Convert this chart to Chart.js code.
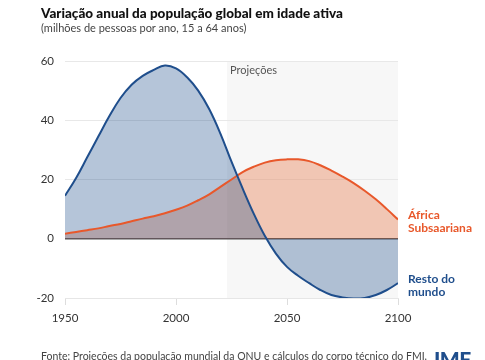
<!DOCTYPE html>
<html>
<head>
<meta charset="utf-8">
<script src="https://cdn.jsdelivr.net/npm/chart.js@4.4.0/dist/chart.umd.min.js"></script>
<style>
    html, body { margin: 0; padding: 0; background: #fff; }
    body { width: 485px; height: 360px; position: relative; overflow: hidden; font-family: Lato, 'Noto Sans', sans-serif; }
    #wrap { position: absolute; left: 0; top: 0; width: 485px; height: 360px; }
    .titulo { position: absolute; left: 41px; top: 5px; font-size: 13.5px; font-weight: 900; color: #111; white-space: nowrap; }
    .subtitulo { position: absolute; left: 41px; top: 21px; font-size: 11px; color: #444; white-space: nowrap; }
    .fonte { position: absolute; left: 41px; top: 350px; font-size: 10.5px; color: #444; white-space: nowrap; }
    .logo { position: absolute; left: 434px; top: 346px; font-size: 21px; font-weight: 900; color: #1f4e8c; letter-spacing: -0.5px; }
</style>
</head>
<body>
<div id="wrap"><canvas id="grafico"></canvas></div>
<div class="titulo">Variação anual da população global em idade ativa</div>
<div class="subtitulo">(milhões de pessoas por ano, 15 a 64 anos)</div>
<div class="fonte">Fonte: Projeções da população mundial da ONU e cálculos do corpo técnico do FMI.</div>
<div class="logo">IMF</div>
<script>
const anos = [1950, 1955, 1960, 1965, 1970, 1975, 1980, 1985, 1990, 1995, 2000,
    2005, 2010, 2015, 2020, 2025, 2030, 2035, 2040, 2045, 2050,
    2055, 2060, 2065, 2070, 2075, 2080, 2085, 2090, 2095, 2100];

const restoDoMundo = [14.5, 20.5, 27.5, 34.5, 41.4, 47.5, 52, 55, 57, 58.5, 57.5,
    54.5, 50, 43.7, 35.5, 26, 17, 8.5, 1, -5, -9.5,
    -12.5, -15, -17.3, -19, -19.8, -20.2, -20, -19, -17.3, -15];

const africaSubsaariana = [1.7, 2.3, 2.9, 3.5, 4.3, 5.0, 5.9, 6.8, 7.6, 8.6, 9.8,
    11.2, 13, 15, 17.5, 20, 22.5, 24.3, 25.7, 26.5, 26.8,
    26.8, 26.2, 24.8, 23, 21, 18.8, 16.2, 13.3, 10, 6.5];

const ticksX = [1950, 2000, 2050, 2100];
const ticksY = [-20, 0, 20, 40, 60];
const inicioProjecoes = 2023;

const azul = '#1f4e8c';
const laranja = '#e8582b';

// fundo cinza da zona de projeções
const projecoes = {
    id: 'projecoes',
    beforeDraw(chart) {
        const { ctx, chartArea, scales } = chart;
        const x0 = scales.x.getPixelForValue(inicioProjecoes);
        const x1 = scales.x.getPixelForValue(2100);
        ctx.save();
        ctx.fillStyle = '#f7f7f7';
        ctx.fillRect(x0, chartArea.top, x1 - x0, chartArea.bottom - chartArea.top);
        ctx.fillStyle = '#555';
        ctx.font = '11px Lato, "Noto Sans", sans-serif';
        ctx.textBaseline = 'top';
        ctx.fillText('Projeções', x0 + 3, chartArea.top + 4);
        ctx.restore();
    }
};

// rótulos das séries à direita
const rotulos = {
    id: 'rotulos',
    afterDraw(chart) {
        const { ctx, scales } = chart;
        const x = scales.x.getPixelForValue(2100) + 10;
        const series = [
            { linhas: ['África', 'Subsaariana'], cor: laranja, v: africaSubsaariana[africaSubsaariana.length - 1] },
            { linhas: ['Resto do', 'mundo'], cor: azul, v: restoDoMundo[restoDoMundo.length - 1] }
        ];
        ctx.save();
        ctx.font = 'bold 12px Lato, "Noto Sans", sans-serif';
        ctx.textBaseline = 'middle';
        series.forEach(s => {
            const y = scales.y.getPixelForValue(s.v);
            ctx.fillStyle = s.cor;
            ctx.fillText(s.linhas[0], x, y - 4);
            ctx.fillText(s.linhas[1], x, y + 9);
        });
        ctx.restore();
    }
};

const ctx = document.getElementById('grafico').getContext('2d');

new Chart(ctx, {
    type: 'line',
    data: {
        datasets: [{
            label: 'Resto do mundo',
            data: anos.map((a, i) => ({ x: a, y: restoDoMundo[i] })),
            borderColor: azul,
            backgroundColor: 'rgba(31,78,140,0.33)',
            borderWidth: 2,
            pointRadius: 0,
            tension: 0.4,
            fill: 'origin'
        }, {
            label: 'África Subsaariana',
            data: anos.map((a, i) => ({ x: a, y: africaSubsaariana[i] })),
            borderColor: laranja,
            backgroundColor: 'rgba(232,100,45,0.33)',
            borderWidth: 2,
            pointRadius: 0,
            tension: 0.4,
            fill: 'origin'
        }]
    },
    options: {
        responsive: true,
        maintainAspectRatio: false,
        animation: false,
        layout: {
            padding: { left: 0, right: 87, top: 61, bottom: 0 }
        },
        plugins: {
            legend: { display: false },
            tooltip: { enabled: false },
            filler: { drawTime: 'beforeDatasetsDraw' }
        },
        scales: {
            x: {
                type: 'linear',
                min: 1950,
                max: 2100,
                afterBuildTicks: s => { s.ticks = ticksX.map(v => ({ value: v })); },
                afterFit: s => { s.height = 62; },
                grid: {
                    drawOnChartArea: false,
                    drawTicks: true,
                    tickLength: 7,
                    color: '#dddddd'
                },
                border: { display: true, color: '#e6e6e6' },
                ticks: {
                    color: '#333',
                    padding: 6,
                    callback: v => String(v),
                    font: { family: 'Lato, "Noto Sans", sans-serif', size: 11.5 }
                }
            },
            y: {
                min: -20,
                max: 60,
                afterBuildTicks: s => { s.ticks = ticksY.map(v => ({ value: v })); },
                afterFit: s => { s.width = 65; },
                grid: {
                    drawTicks: false,
                    color: c => c.tick.value === 0 ? '#555555' : '#e8e8e8',
                    lineWidth: c => c.tick.value === 0 ? 1.5 : 1
                },
                border: { display: false },
                ticks: {
                    color: '#333',
                    padding: 11,
                    font: { family: 'Lato, "Noto Sans", sans-serif', size: 11.5 }
                }
            }
        }
    },
    plugins: [projecoes, rotulos]
});
</script>
</body>
</html>
